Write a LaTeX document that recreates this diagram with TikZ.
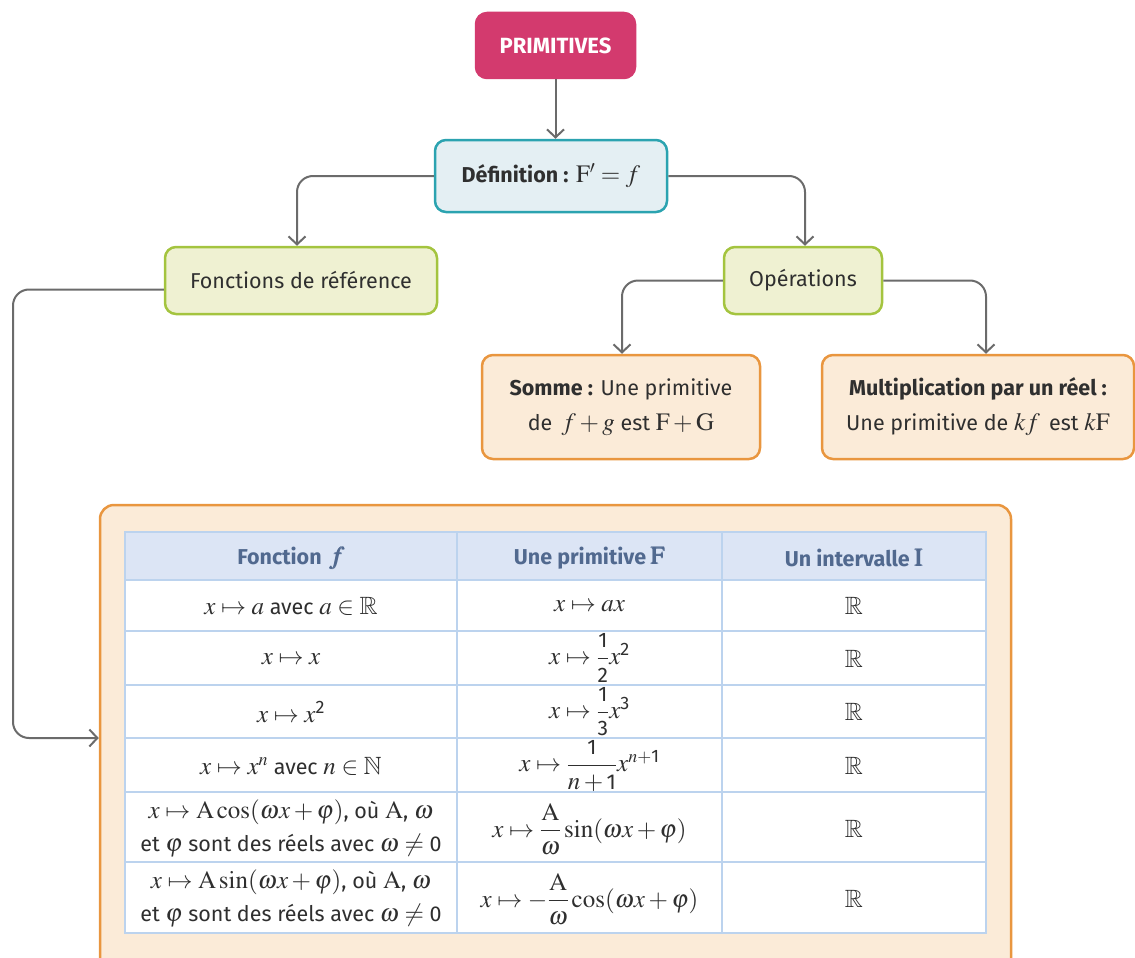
\documentclass[tikz,border=0pt]{standalone}
\usepackage{amsmath,amssymb}
\usepackage{mathptmx}
\usepackage[no-math]{fontspec}
\setmainfont{Fira Sans}
\usetikzlibrary{arrows.meta}
\DeclareMathSizes{21.5}{25}{18}{14}
\definecolor{pinkc}{HTML}{D33A6E}
\definecolor{tealc}{HTML}{2BA3B0}
\definecolor{bluefill}{HTML}{E4EFF3}
\definecolor{greenc}{HTML}{A4C43F}
\definecolor{greenfill}{HTML}{EFF1D2}
\definecolor{orangec}{HTML}{E9963F}
\definecolor{orangefill}{HTML}{FBEBD8}
\definecolor{headfill}{HTML}{DCE5F5}
\definecolor{gridc}{HTML}{BCD3EE}
\definecolor{headtext}{HTML}{51698F}
\definecolor{linec}{HTML}{6B6B6B}
\definecolor{textc}{HTML}{2F2F2F}
\newcommand{\dg}[1]{\text{#1}}
\newcommand{\fd}[1]{\mbox{\fontsize{21}{21}\selectfont #1}}
\tikzset{
  box/.style={rectangle, rounded corners=11pt, line width=2.5pt, align=center, text=textc, font=\fontsize{21.5}{35}\selectfont},
  pinkbox/.style={box, fill=pinkc, draw=pinkc, text=white, font=\fontsize{22}{35}\selectfont\bfseries},
  bluebox/.style={box, fill=bluefill, draw=tealc},
  greenbox/.style={box, fill=greenfill, draw=greenc},
  orangebox/.style={box, fill=orangefill, draw=orangec},
  conn/.style={draw=linec, line width=2pt, rounded corners=16pt, -{Straight Barb[length=8pt,width=17pt,line width=2pt]}},
  cell/.style={align=center, text=textc, font=\fontsize{21.5}{33}\selectfont, inner sep=0pt},
  headcell/.style={cell, text=headtext, font=\fontsize{21.5}{33}\selectfont\bfseries},
}
\begin{document}
\begin{tikzpicture}[x=1pt,y=-1pt]
\useasboundingbox (0,0) rectangle (1135,958);
% boxes
\node[pinkbox, minimum width=159pt, minimum height=65pt] (prim) at (555.5,45.5) {PRIMITIVES};
\node[bluebox, minimum width=232pt, minimum height=72pt] (def) at (551,176) {\textbf{Définition :} $\mathrm{F}'=f$};
\node[greenbox, minimum width=272pt, minimum height=67pt] (fonc) at (301,280.5) {Fonctions de référence};
\node[greenbox, minimum width=158pt, minimum height=67pt] (ops) at (803,280.5) {Opérations};
\node[orangebox, minimum width=278pt, minimum height=104pt] (somme) at (621,407) {\textbf{Somme :} Une primitive\\de \,$f+g$ est $\mathrm{F}+\mathrm{G}$};
\node[orangebox, minimum width=312pt, minimum height=104pt] (mult) at (978,407) {\textbf{Multiplication par un réel :}\\Une primitive de $kf$ \,est $k\mathrm{F}$};
\node[orangebox, rounded corners=14pt, minimum width=911pt, minimum height=470pt] (big) at (555.5,740) {};
% table
\fill[headfill] (125,532) rectangle (986,580);
\fill[white] (125,580) rectangle (986,933);
\begin{scope}[draw=gridc, line width=1.5pt]
\draw (125,532) rectangle (986,933);
\foreach \yy in {580,631,685,738,792,862} \draw (125,\yy) -- (986,\yy);
\draw (457,532) -- (457,933);
\draw (722,532) -- (722,933);
\end{scope}
\node[headcell] (h1) at (291,558) {Fonction \,$\pmb{f}$};
\node[headcell] (h2) at (589.5,558) {Une primitive $\pmb{\mathrm{F}}$};
\node[headcell] (h3) at (854,558) {Un intervalle $\pmb{\mathrm{I}}$};
\node[cell] (a1) at (291,606) {$x\mapsto a$ avec $a\in\mathbb{R}$};
\node[cell] (a2) at (589.5,606) {$x\mapsto ax$};
\node[cell] (a3) at (854,606) {$\mathbb{R}$};
\node[cell] (b1) at (291,659) {$x\mapsto x$};
\node[cell] (b2) at (589.5,658) {$x\mapsto \dfrac{\fd{1}}{\fd{2}}x^{\dg{2}}$};
\node[cell] (b3) at (854,659) {$\mathbb{R}$};
\node[cell] (c1) at (291,712) {$x\mapsto x^{\dg{2}}$};
\node[cell] (c2) at (589.5,712) {$x\mapsto \dfrac{\fd{1}}{\fd{3}}x^{\dg{3}}$};
\node[cell] (c3) at (854,712) {$\mathbb{R}$};
\node[cell] (d1) at (291,766) {$x\mapsto x^n$ avec $n\in\mathbb{N}$};
\node[cell] (d2) at (589.5,766) {$x\mapsto \dfrac{\fd{1}}{n+\dg{1}}x^{n+\dg{1}}$};
\node[cell] (d3) at (854,766) {$\mathbb{R}$};
\node[cell] (e1) at (291,828) {$x\mapsto \mathrm{A}\cos(\omega x+\varphi)$, où $\mathrm{A}$, $\omega$\\et $\varphi$ sont des réels avec $\omega\neq \dg{0}$};
\node[cell] (e2) at (589.5,829) {$x\mapsto \dfrac{\mathrm{A}}{\omega}\sin(\omega x+\varphi)$};
\node[cell] (e3) at (854,829) {$\mathbb{R}$};
\node[cell] (f1) at (291,898) {$x\mapsto \mathrm{A}\sin(\omega x+\varphi)$, où $\mathrm{A}$, $\omega$\\et $\varphi$ sont des réels avec $\omega\neq \dg{0}$};
\node[cell] (f2) at (589.5,899) {$x\mapsto -\dfrac{\mathrm{A}}{\omega}\cos(\omega x+\varphi)$};
\node[cell] (f3) at (854,899) {$\mathbb{R}$};
% connectors
\draw[conn] (prim.south) -- (prim.south |- def.north);
\draw[conn] (def.west) -| ([xshift=-4pt]fonc.north);
\draw[conn] (def.east) -| ([xshift=2pt]ops.north);
\draw[conn] (ops.west) -| ([xshift=1pt]somme.north);
\draw[conn] (ops.east) -| ([xshift=8pt]mult.north);
\coordinate (corner) at (13,738);
\draw[conn] ([yshift=-9pt]fonc.west) -| (corner) -- (big.west |- corner);
\end{tikzpicture}
\end{document}
